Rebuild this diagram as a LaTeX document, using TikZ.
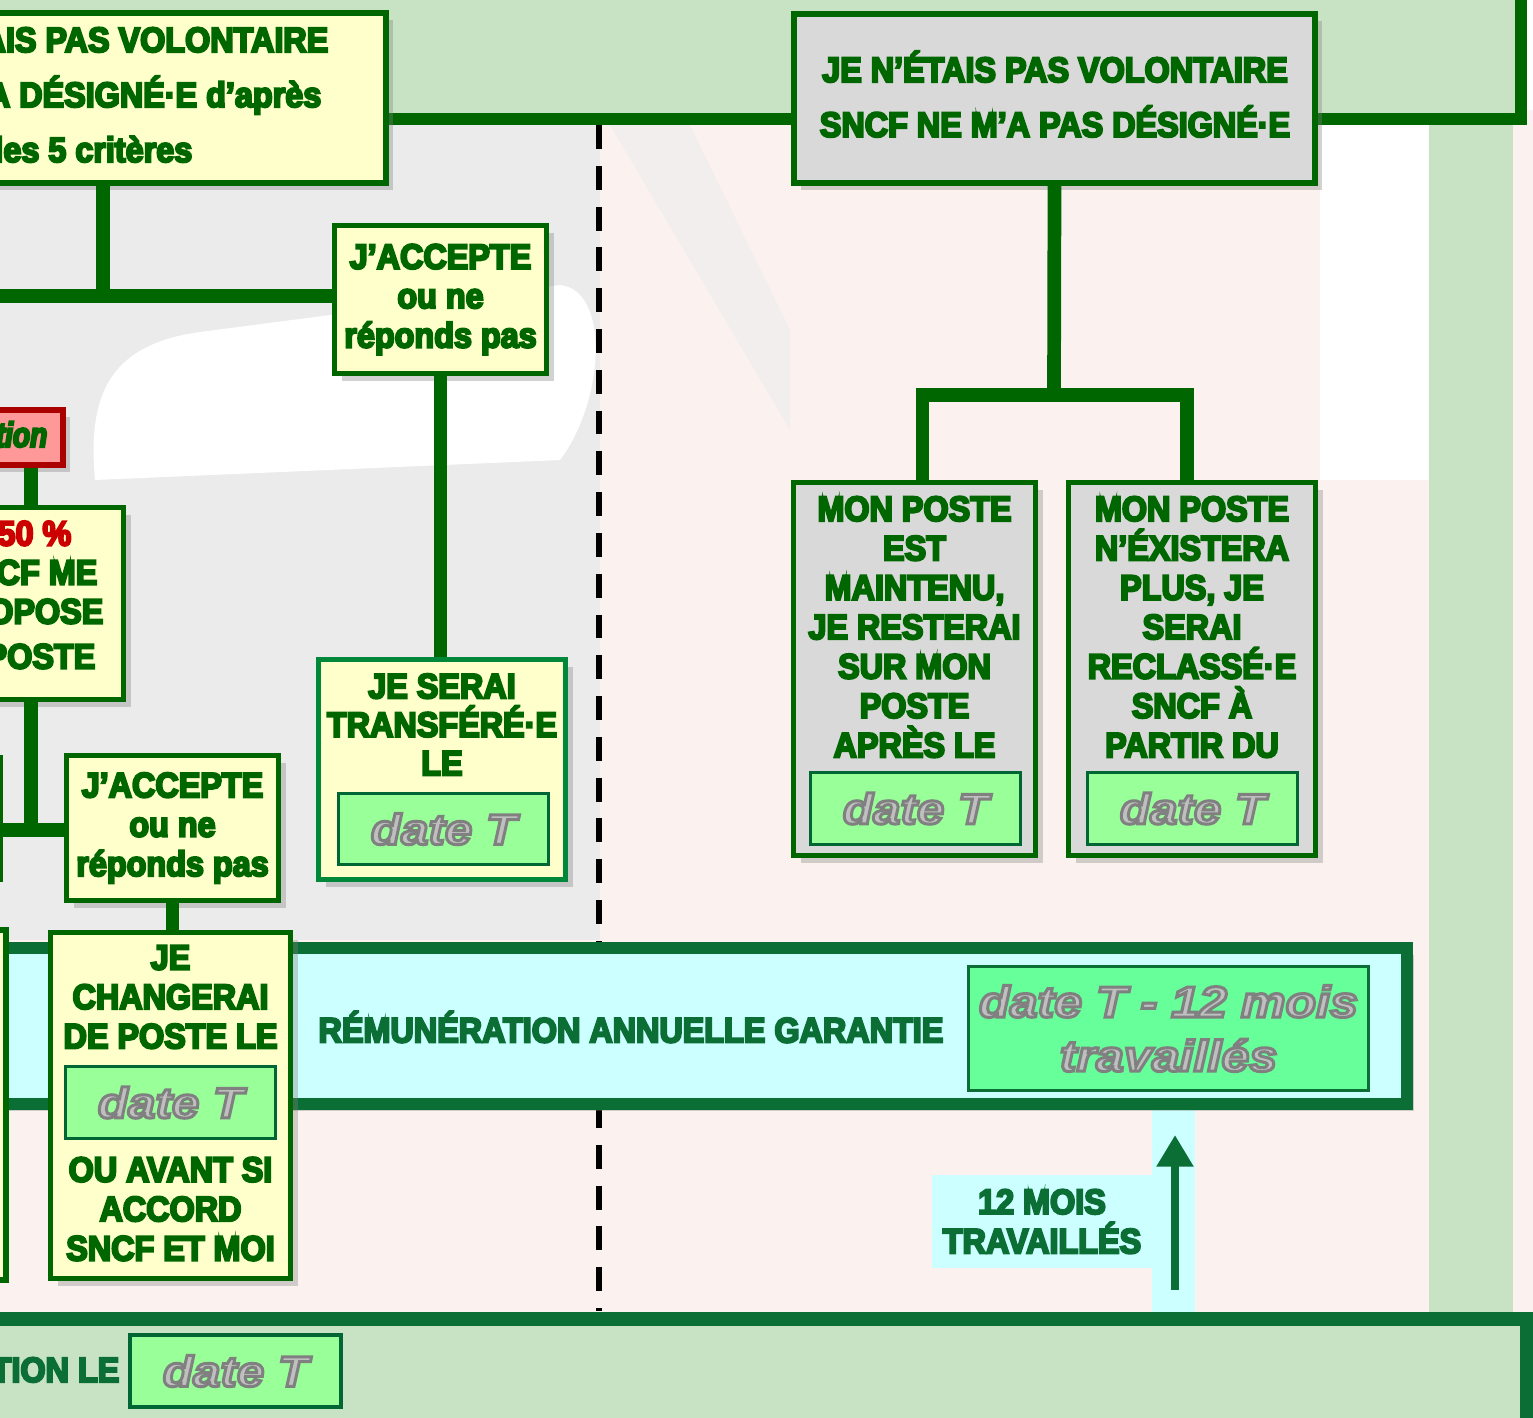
\documentclass[tikz,border=0pt]{standalone}
\usepackage{fontspec}
\setmainfont{Liberation Sans}
\newfontfamily\heavy[FakeBold=6,FakeStretch=0.92]{Liberation Sans Bold}
\newfontfamily\dateface[FakeBold=7,FakeStretch=1.15]{Liberation Sans Bold Italic}
\newfontfamily\slantface[FakeBold=6,FakeStretch=0.8]{Liberation Sans Bold Italic}
\usepackage{tikz}
\usetikzlibrary{arrows.meta,calc,positioning,shadows}
\definecolor{dgreen}{RGB}{0,102,0}
\definecolor{mgreen}{RGB}{10,110,53}
\definecolor{bgreen}{RGB}{0,136,58}
\definecolor{pale}{RGB}{200,226,196}
\definecolor{cream}{RGB}{255,255,204}
\definecolor{lgray}{RGB}{217,217,217}
\definecolor{dfill}{RGB}{153,255,153}
\definecolor{dfill2}{RGB}{102,255,153}
\definecolor{dbord}{RGB}{0,102,51}
\definecolor{cyanf}{RGB}{204,255,255}
\definecolor{pinkf}{RGB}{255,153,153}
\definecolor{dred}{RGB}{170,0,0}
\definecolor{redt}{RGB}{204,0,0}
\definecolor{bgpink}{RGB}{251,242,240}
\definecolor{wmgray}{RGB}{235,235,235}
\definecolor{dtxt}{RGB}{191,191,191}
\tikzset{
  frame/.style={fill=pale,line width=3.4pt},
  sz/.style 2 args={minimum width=#1*0.01cm,minimum height=#2*0.01cm},
  txt/.style={inner sep=0pt,align=center,font=\heavy\fontsize{10}{11.2}\selectfont,text=dgreen},
  box/.style={txt,draw=dgreen,line width=1.6pt,fill=cream,
    drop shadow={opacity=0.35,shadow xshift=2pt,shadow yshift=-2pt}},
  grey/.style={box,fill=lgray},
  datebox/.style={draw=dbord,line width=0.9pt,fill=dfill,inner sep=0pt,align=center,
    font=\dateface\fontsize{12.2}{14}\selectfont,text=dtxt},
  link/.style={draw=dgreen,line width=3.9pt},
  sep/.style={black,line width=1.7pt,dash pattern=on 6.8pt off 4.8pt},
  up/.style={-{Triangle[width=10pt,length=9pt]},draw=mgreen,line width=2.3pt}
}
% grey outline for the date labels
\newcommand{\rim}{\special{pdf:literal direct 0.5 0.5 0.5 RG}}
\newcommand{\dateT}{\rim date T}

\begin{document}
\begin{tikzpicture}[x=0.01cm,y=-0.01cm]
  \useasboundingbox (0,0) rectangle (1533,1417);
  \clip (0,0) rectangle (1533,1417);
  % faint background behind the chart
  \fill[bgpink] (-10,110) rectangle (1545,1330);
  \fill[wmgray] (0,125) rectangle (600,940);
  \fill[white] (95,480) .. controls (88,400) and (105,345) .. (200,332) -- (560,285) .. controls (610,290) and (605,400) .. (560,460) -- cycle;
  \fill[wmgray!60!bgpink] (610,125) -- (690,125) -- (790,330) -- (790,430) -- cycle;
  \fill[white] (1320,125) rectangle (1429,480);
  \fill[pale] (1429,119) rectangle (1513,1319);
  % separation
  \coordinate (dtop) at (599,125);
  \coordinate (dend) at (599,1311);
  \draw[sep] (dtop) -- (dend);
  % top and bottom bands
  \draw[frame,draw=dgreen] (-20,-20) rectangle (1521,119);
  \draw[frame,draw=mgreen,line width=4.2pt] (-20,1319) rectangle (1527,1440);
  \node[txt,text=mgreen,anchor=base east] (tionle) at (120,1382) {TION LE};
  \node[datebox,sz={211}{72}] (bdate) at (235.5,1371) {\dateT};
  % twelve months
  \fill[cyanf] (1152,1105) rectangle (1195,1312);
  \node[txt,fill=cyanf,text=mgreen,sz={220}{93}] (mois) at (1042,1221.5) {12 MOIS\\TRAVAILLÉS};
  \coordinate (a0) at (1175,1290);
  \coordinate (a1) at (1175,1135);
  \draw[up] (a0) -- (a1);
  % guaranteed pay band
  \node[box,draw=mgreen,line width=3.4pt,fill=cyanf,sz={1437}{156}] (rem) at (688.5,1026) {};
  \node[txt,text=mgreen] (remtxt) at (631,1027) {RÉMUNÉRATION ANNUELLE GARANTIE};
  \node[datebox,draw=mgreen,fill=dfill2,sz={400}{124},font=\dateface\fontsize{12.4}{15.4}\selectfont] (remdate) at (1168.5,1028.5) {\rim date T - 12 mois\\\rim travaillés};
  % cut boxes on the left edge
  \draw[dgreen,line width=1.4pt,fill=cream] (-40,757) rectangle (1,880);
  \draw[dgreen,line width=1.6pt,fill=cream] (-40,930) rectangle (6,1280);
  % designated branch
  \node[box,sz={405}{170}] (tlbox) at (183.5,98) {};
  \node[txt,anchor=base east] (tl1) at (329,52) {AIS PAS VOLONTAIRE};
  \node[txt,anchor=base east] (tl2) at (322,107) {A DÉSIGNÉ·E d’après};
  \node[txt,anchor=base east] (tl3) at (193,162) {les 5 critères};
  \node[box,sz={212}{148}] (ja1) at (440.5,299.5) {J’ACCEPTE\\ou ne\\réponds pas};
  \node[box,draw=bgreen,sz={247}{220}] (js) at (442,769.5) {};
  \node[txt,font=\heavy\fontsize{10}{10.95}\selectfont] (jstxt) at (442,724.5) {JE SERAI\\TRANSFÉRÉ·E\\LE};
  \node[datebox,sz={210}{71}] (jsdate) at (443.5,829) {\dateT};
  \node[box,draw=dred,fill=pinkf,sz={80}{55}] (rb) at (23,437.5) {};
  \node[txt,anchor=base east,font=\slantface\fontsize{10}{12}\selectfont] (rbtxt) at (48,447) {tion};
  \node[box,sz={141}{192}] (p50) at (53,603.5) {};
  \node[txt,anchor=base east,text=redt] (p1) at (72,545.5) {50 \%};
  \node[txt,anchor=base east] (p2) at (98,584.5) {CF ME};
  \node[txt,anchor=base east] (p3) at (104,623.5) {OPOSE};
  \node[txt,anchor=base east] (p4) at (96,668.5) {POSTE};
  \node[box,sz={212}{145}] (ja2) at (172.5,828) {J’ACCEPTE\\ou ne\\réponds pas};
  \node[box,sz={240}{346}] (jc) at (170.5,1105.5) {};
  \node[txt] (jc1) at (170.5,997) {JE\\CHANGERAI\\DE POSTE LE};
  \node[datebox,sz={210}{72}] (jcdate) at (170.5,1102.5) {\dateT};
  \node[txt] (jc2) at (170.5,1209) {OU AVANT SI\\ACCORD\\SNCF ET MOI};
  % not designated branch
  \node[grey,sz={521}{169}] (nv) at (1054.5,98.5) {};
  \node[txt,font=\heavy\fontsize{10}{15.6}\selectfont] (nvtxt) at (1055,94) {JE N’ÉTAIS PAS VOLONTAIRE\\SNCF NE M’A PAS DÉSIGNÉ·E};
  \node[grey,sz={242}{373}] (mp1) at (914.5,669) {};
  \node[txt] (mp1txt) at (914.5,627) {MON POSTE\\EST\\MAINTENU,\\JE RESTERAI\\SUR MON\\POSTE\\APRÈS LE};
  \node[datebox,sz={210}{72}] (mp1date) at (915.5,808.5) {\dateT};
  \node[grey,sz={247}{373}] (mp2) at (1192,669) {};
  \node[txt] (mp2txt) at (1192,627) {MON POSTE\\N’ÉXISTERA\\PLUS, JE\\SERAI\\RECLASSÉ·E\\SNCF À\\PARTIR DU};
  \node[datebox,sz={210}{72}] (mp2date) at (1192.5,808.5) {\dateT};
  % links
  \coordinate (jA) at (103,296);
  \coordinate (edgeA) at (-10,296);
  \draw[link] (jA |- tlbox.south) -- (jA);
  \draw[link] (edgeA) -- (edgeA -| ja1.west);
  \draw[link] (ja1.south) -- (ja1.south |- js.north);
  \coordinate (vB) at (31,830);
  \coordinate (edgeB) at (-10,830);
  \draw[link] (vB |- rb.south) -- (vB |- p50.north);
  \draw[link] (vB |- p50.south) -- (vB);
  \draw[link] (edgeB) -- (edgeB -| ja2.west);
  \draw[link] (ja2.south) -- (ja2.south |- jc.north);
  \coordinate (fork) at (1054,395);
  \draw[link] (nv.south) -- (fork);
  \draw[link] ($(mp1.north)+(8,0)$) |- (fork) -| ($(mp2.north)+(-5,0)$);
\end{tikzpicture}
\end{document}
